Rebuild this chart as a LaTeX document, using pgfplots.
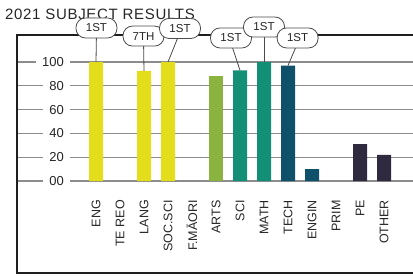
\documentclass[border=0pt]{standalone}
\usepackage{fontspec}
\setmainfont{Liberation Sans}
\usepackage{pgfplots}
\pgfplotsset{compat=1.18}
\definecolor{cYel}{HTML}{E4DD1B}
\definecolor{cArt}{HTML}{8AB43F}
\definecolor{cTeal}{HTML}{128F76}
\definecolor{cDTeal}{HTML}{0F506A}
\definecolor{cNavy}{HTML}{2F2A40}
\definecolor{cText}{HTML}{262626}
\definecolor{cGrid}{HTML}{8C8C8C}
\definecolor{cFrame}{HTML}{1E1E1E}
\definecolor{cPill}{HTML}{4A4A4A}
\tikzset{
  pill/.style={draw=cPill, line width=0.8pt, fill=white, minimum width=41pt, minimum height=20pt, rounded corners=9.5pt, inner sep=0pt, font=\fontsize{11.5}{13}\selectfont, text=cText},
  pline/.style={draw=cPill, line width=0.8pt},
  ylab/.style={anchor=east, fill=white, inner xsep=6pt, inner ysep=1pt, font=\fontsize{13}{15}\selectfont, text=cText},
  xlab/.style={rotate=90, anchor=east, inner sep=0pt, font=\fontsize{12.5}{15}\selectfont, text=cText},
}
\begin{document}
\begin{tikzpicture}[x=1pt,y=1pt]
\node[anchor=base west, inner sep=0, text=cText, font=\fontsize{15}{18}\selectfont\addfontfeature{LetterSpace=4.5}] at (5,256) {2021 SUBJECT RESULTS};
\begin{axis}[
  at={(17pt,3pt)}, anchor=south west, scale only axis,
  width=403pt, height=238pt,
  xmin=-3.2917, xmax=13.5, ymin=-77.31, ymax=122.69,
  axis line style={line width=2.6pt, draw=cFrame},
  ytick={0,20,40,60,80,100}, yticklabels={}, xtick=\empty,
  ymajorgrids, grid style={line width=1.2pt, color=cGrid},
  major tick length=0pt,
  clip=false,
  ybar, bar width=14pt,
]
\addplot[fill=cYel, draw=none, bar shift=0pt] coordinates {(0,100) (2,92.5) (3,100)};
\addplot[fill=cArt, draw=none, bar shift=0pt] coordinates {(5,88)};
\addplot[fill=cTeal, draw=none, bar shift=0pt] coordinates {(6,93) (7,100)};
\addplot[fill=cDTeal, draw=none, bar shift=0pt] coordinates {(8,97) (9,10)};
\addplot[fill=cNavy, draw=none, bar shift=0pt] coordinates {(11,31) (12,22)};

\node[ylab] at (axis cs:-1.0833,100) {100};
\node[ylab] at (axis cs:-1.0833,80) {80};
\node[ylab] at (axis cs:-1.0833,60) {60};
\node[ylab] at (axis cs:-1.0833,40) {40};
\node[ylab] at (axis cs:-1.0833,20) {20};
\node[ylab] at (axis cs:-1.0833,0) {00};

\node[xlab] at (axis cs:0,-16) {ENG};
\node[xlab] at (axis cs:1,-16) {TE REO};
\node[xlab] at (axis cs:2,-16) {LANG};
\node[xlab] at (axis cs:3,-16) {SOC.SCI};
\node[xlab] at (axis cs:4,-16) {F.MĀORI};
\node[xlab] at (axis cs:5,-16) {ARTS};
\node[xlab] at (axis cs:6,-16) {SCI};
\node[xlab] at (axis cs:7,-16) {MATH};
\node[xlab] at (axis cs:8,-16) {TECH};
\node[xlab] at (axis cs:9,-16) {ENGIN};
\node[xlab] at (axis cs:10,-16) {PRIM};
\node[xlab] at (axis cs:11,-16) {PE};
\node[xlab] at (axis cs:12,-16) {OTHER};

\draw[pline] (axis cs:0,100) -- (axis cs:0.02,125);
\draw[pline] (axis cs:2,92.5) -- (axis cs:1.98,118);
\draw[pline] (axis cs:3,100) -- (axis cs:3.5,125);
\draw[pline] (axis cs:6,93) -- (axis cs:5.625,116);
\draw[pline] (axis cs:7,100) -- (axis cs:7,125);
\draw[pline] (axis cs:8,97) -- (axis cs:8.4,116);
\node[pill] at (axis cs:0.02,128.6) {1ST};
\node[pill] at (axis cs:1.98,121.8) {7TH};
\node[pill] at (axis cs:3.5,128.2) {1ST};
\node[pill] at (axis cs:5.625,120.2) {1ST};
\node[pill] at (axis cs:7,129.4) {1ST};
\node[pill] at (axis cs:8.4,120.2) {1ST};
\end{axis}
\pgfresetboundingbox
\path[use as bounding box] (0,0) rectangle (413,276);
\end{tikzpicture}
\end{document}
